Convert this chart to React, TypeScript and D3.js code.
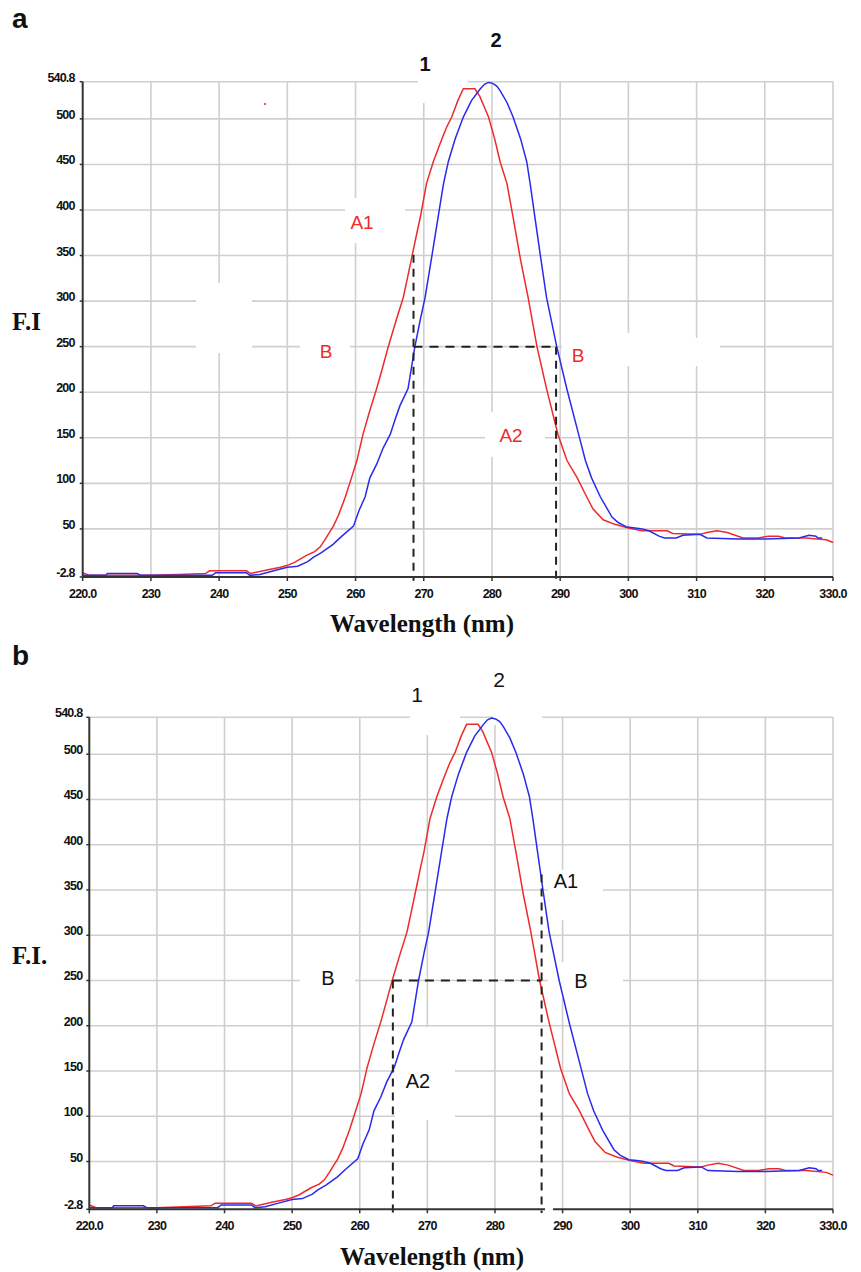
import React from 'react';
import * as d3 from 'd3';

// ---- data (wavelength nm, fluorescence intensity) ----
const redWl = [220, 221, 227, 230, 234, 238, 238.6, 244, 244.6, 247, 249, 250, 251, 252.8, 254, 254.8, 255.5, 256.75, 257.5, 258.5, 259.4, 260.2, 261.1, 262.1, 263.1, 264, 264.8, 266, 267, 267.6, 268.3, 269, 269.5, 270.4, 271.4, 272.5, 273.3, 274.1, 275, 275.8, 277.5, 278.2, 279.5, 280.4, 281.2, 282.2, 283.1, 284.2, 285.3, 286.6, 288, 289.7, 291, 292.5, 293.9, 294.8, 296.3, 298, 300, 302, 305.7, 306.5, 310.5, 311.5, 313, 314.5, 316.8, 319, 320.5, 322, 323, 326, 329, 330];
const redFi = [2, -1, -1, -1, 0, 1, 4, 4, 1, 5, 8, 10, 13, 21, 25, 30, 38, 53, 65, 85, 106, 125, 154, 180, 204, 228, 250, 280, 304, 325, 350, 375, 392, 429, 453, 475, 490, 502, 520, 533, 533, 525, 502, 478, 453, 429, 392, 345, 304, 250, 204, 153, 125, 106, 85, 72, 60, 55, 51, 48, 48, 45, 44, 46, 48, 46, 40, 40, 42, 42, 40, 40, 38, 35];

const blueWl = [220, 223.4, 223.6, 228, 228.5, 239, 239.5, 244, 244.5, 246, 248, 250, 251.5, 253, 253.8, 255, 256.7, 258, 259.7, 260.5, 261.4, 262.1, 263.1, 264, 265.1, 265.8, 266.5, 267.7, 268.7, 269.5, 270.2, 271.2, 272.1, 272.9, 273.6, 274.6, 275.8, 277, 278.3, 278.9, 279.5, 280.1, 280.7, 281.2, 282.2, 283.1, 284.2, 285.1, 285.6, 286.3, 287.1, 288, 289.5, 291, 292.7, 293.7, 294.6, 295.9, 297.6, 298.5, 299.8, 301, 302, 303, 304.5, 305.3, 307, 308, 310.5, 311.5, 316, 320, 325, 326.5, 327.5, 327.8, 328.4];
const blueFi = [-1, -1, 1, 1, -1, -1, 2, 2, -1, 0, 4, 8, 9, 14, 18.7, 24, 33, 42, 53, 70, 85, 106, 121, 138, 154, 170, 185, 204, 250, 280, 304, 350, 392, 429, 453, 478, 502, 520, 533, 538, 540, 539, 536, 531, 518, 502, 478, 453, 429, 392, 350, 304, 250, 203, 154, 125, 106, 85, 63, 57, 52, 51, 50, 48, 42, 40, 40, 43, 44, 40, 39, 39, 40, 43, 42, 40, 40];

const xTickValues = [220, 230, 240, 250, 260, 270, 280, 290, 300, 310, 320, 330];
const xTickLabels = ['220.0', '230', '240', '250', '260', '270', '280', '290', '300', '310', '320', '330.0'];
const yTickValues = [-2.8, 50, 100, 150, 200, 250, 300, 350, 400, 450, 500, 540.8];
const yTickLabels = ['-2.8', '50', '100', '150', '200', '250', '300', '350', '400', '450', '500', '540.8'];

// dashed guide lines: [wavelength of left line, wavelength of right line]
const guideXA = [268.5, 289.4];
const guideTopA = [351, 250];
const guideXB = [264.9, 286.9];
const guideTopB = [250, 367];
const guideLevel = 250;
const guideBottom = -7;

type Lbl = { t: string; x: number; y: number; size: number; weight?: string; color: string; anchor?: string; family?: string };
type Patch = [number, number, number, number];

interface PanelProps {
  x0: number; x1: number; y0: number; y1: number;
  gx: number[]; gtop: number[];
  labels: Lbl[];
  patches: Patch[];
  postPatches: Patch[];
  yLabelGap: number;
}

const red = d3.zip(redWl, redFi) as [number, number][];
const blue = d3.zip(blueWl, blueFi) as [number, number][];

function Panel(p: PanelProps) {
  const x = d3.scaleLinear().domain([220, 330]).range([p.x0, p.x1]);
  const y = d3.scaleLinear().domain([-2.8, 540.8]).range([p.y0, p.y1]);
  const line = d3.line<[number, number]>().x(d => x(d[0])).y(d => y(d[1])).curve(d3.curveLinear);
  const gridColor = '#cfcfcf';
  const tickFont = { fontFamily: 'Liberation Sans, Arial, sans-serif', fontWeight: 'bold', fontSize: 12.5, letterSpacing: -0.8, fill: '#111' } as any;
  return (
    <g>
      {/* grid */}
      {xTickValues.slice(1).map(v => (
        <line key={'gx' + v} x1={x(v)} x2={x(v)} y1={y(540.8)} y2={y(-2.8)} stroke={gridColor} strokeWidth={1.6} />
      ))}
      {yTickValues.slice(1).map(v => (
        <line key={'gy' + v} x1={x(220)} x2={x(330)} y1={y(v)} y2={y(v)} stroke={gridColor} strokeWidth={1.6} />
      ))}
      {/* white label backgrounds that hide the grid */}
      {p.patches.map((r, i) => (
        <rect key={'p' + i} x={r[0]} y={r[1]} width={r[2]} height={r[3]} fill="#fff" />
      ))}
      {/* curves */}
      <path d={line(red) || ''} fill="none" stroke="#ee2a2a" strokeWidth={1.5} />
      <path d={line(blue) || ''} fill="none" stroke="#2a2aee" strokeWidth={1.5} />
      {/* dashed guides */}
      <line x1={x(p.gx[0])} x2={x(p.gx[0])} y1={y(p.gtop[0])} y2={y(guideBottom)} stroke="#222" strokeWidth={2} strokeDasharray="8 6" />
      <line x1={x(p.gx[1])} x2={x(p.gx[1])} y1={y(p.gtop[1])} y2={y(guideBottom)} stroke="#222" strokeWidth={2} strokeDasharray="8 6" />
      <line x1={x(p.gx[0])} x2={x(p.gx[1])} y1={y(guideLevel)} y2={y(guideLevel)} stroke="#222" strokeWidth={2} strokeDasharray="9 7" />
      {/* axes */}
      <line x1={x(220)} x2={x(220)} y1={y(540.8)} y2={y(-2.8) + 1} stroke="#333" strokeWidth={2} />
      <line x1={x(220)} x2={x(330)} y1={y(-2.8)} y2={y(-2.8)} stroke="#333" strokeWidth={2} />
      {xTickValues.map(v => (
        <line key={'tx' + v} x1={x(v)} x2={x(v)} y1={y(-2.8)} y2={y(-2.8) + 4} stroke="#333" strokeWidth={1.5} />
      ))}
      {yTickValues.map(v => (
        <line key={'ty' + v} x1={x(220) - 3} x2={x(220)} y1={y(v)} y2={y(v)} stroke="#333" strokeWidth={1.5} />
      ))}
      {p.postPatches.map((r, i) => (
        <rect key={'pp' + i} x={r[0]} y={r[1]} width={r[2]} height={r[3]} fill="#fff" />
      ))}
      {xTickValues.map((v, i) => (
        <text key={'lx' + v} x={x(v)} y={y(-2.8) + 21} textAnchor="middle" {...tickFont}>{xTickLabels[i]}</text>
      ))}
      {yTickValues.map((v, i) => (
        <text key={'ly' + v} x={x(220) - p.yLabelGap} y={y(v)} textAnchor="end" {...tickFont}>{yTickLabels[i]}</text>
      ))}
      {p.labels.map((l, i) => (
        <text key={'l' + i} x={l.x} y={l.y} textAnchor={l.anchor || 'middle'} fontSize={l.size}
          fontWeight={l.weight || 'normal'} fill={l.color}
          fontFamily={l.family || 'Liberation Sans, Arial, sans-serif'}>{l.t}</text>
      ))}
    </g>
  );
}

const serif = 'Liberation Serif, Times New Roman, serif';

export default function App() {
  const labelsA: Lbl[] = [
    { t: 'a', x: 12, y: 28, size: 28, weight: 'bold', color: '#111', anchor: 'start' },
    { t: '1', x: 425, y: 71, size: 20, weight: 'bold', color: '#111' },
    { t: '2', x: 496, y: 47, size: 20, weight: 'bold', color: '#111' },
    { t: 'A1', x: 362, y: 229, size: 19, color: '#ee2a2a' },
    { t: 'B', x: 326, y: 358, size: 19, color: '#ee2a2a' },
    { t: 'B', x: 578, y: 362, size: 19, color: '#ee2a2a' },
    { t: 'A2', x: 511, y: 442, size: 19, color: '#ee2a2a' },
    { t: 'F.I', x: 12, y: 330, size: 25, weight: 'bold', color: '#111', anchor: 'start', family: serif },
    { t: 'Wavelength (nm)', x: 422, y: 632, size: 25, weight: 'bold', color: '#111', family: serif },
  ];
  const labelsB: Lbl[] = [
    { t: 'b', x: 12, y: 665, size: 28, weight: 'bold', color: '#111', anchor: 'start' },
    { t: '1', x: 417, y: 702, size: 21, color: '#111' },
    { t: '2', x: 499, y: 687, size: 21, color: '#111' },
    { t: 'A1', x: 566, y: 888, size: 20, color: '#111' },
    { t: 'B', x: 328, y: 985, size: 20, color: '#111' },
    { t: 'B', x: 581, y: 988, size: 20, color: '#111' },
    { t: 'A2', x: 418, y: 1088, size: 20, color: '#111' },
    { t: 'F.I.', x: 12, y: 964, size: 25, weight: 'bold', color: '#111', anchor: 'start', family: serif },
    { t: 'Wavelength (nm)', x: 432, y: 1265, size: 25, weight: 'bold', color: '#111', family: serif },
  ];
  const patchesA: Patch[] = [
    [418, 50, 50, 53], [196, 283, 56, 70], [345, 198, 60, 45], [300, 332, 50, 35],
    [562, 333, 80, 32], [620, 338, 100, 28], [485, 412, 60, 45],
  ];
  const patchesB: Patch[] = [
    [410, 690, 50, 45], [493, 690, 49, 35], [300, 960, 55, 35], [548, 870, 55, 50],
    [548, 962, 75, 36], [395, 1027, 60, 93],
  ];
  return (
    <svg width={861} height={1272} style={{ position: 'absolute', left: 0, top: 0, background: '#fff' }}>
      <rect x={0} y={0} width={861} height={1272} fill="#fff" />
      <Panel x0={82.7} x1={833} y0={577} y1={81.7} gx={guideXA} gtop={guideTopA}
        labels={labelsA} patches={patchesA} postPatches={[]} yLabelGap={8} />
      <rect x={264} y={103} width={2} height={2} fill="#e0508a" />
      <Panel x0={89.3} x1={833} y0={1209.3} y1={717.3} gx={guideXB} gtop={guideTopB}
        labels={labelsB} patches={patchesB} postPatches={[[545, 1205, 8, 9]]} yLabelGap={7} />
    </svg>
  );
}
